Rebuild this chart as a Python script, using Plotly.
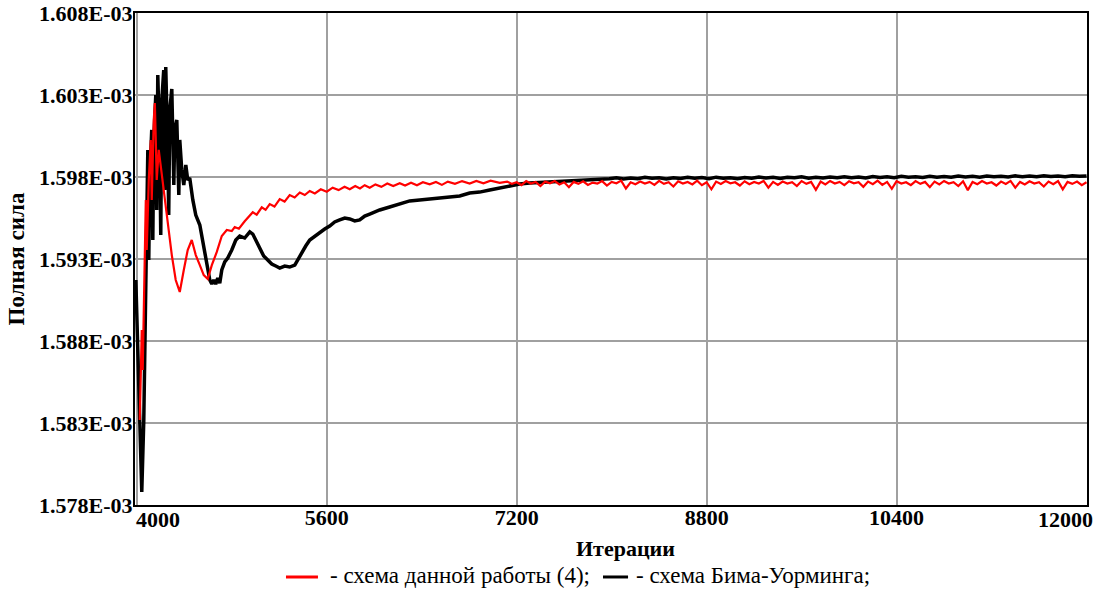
import plotly.graph_objects as go

# ---------------- data (values in units of 1E-03) ----------------
black_iter = [3992, 4008, 4025, 4042, 4059, 4076, 4084, 4093, 4101, 4109, 4126, 4135, 4143, 4160,
              4168, 4177, 4194, 4202, 4211, 4227, 4236, 4244, 4261, 4269, 4278, 4295, 4312, 4320,
              4337, 4354, 4362, 4379, 4396, 4413, 4429, 4446, 4472, 4497, 4531, 4564, 4589, 4615,
              4632, 4648, 4665, 4682, 4699, 4716, 4741, 4766, 4800, 4834, 4867, 4909, 4952, 4977,
              5002, 5036, 5069, 5103, 5137, 5171, 5204, 5246, 5288, 5331, 5356, 5389, 5423, 5457,
              5499, 5541, 5583, 5625, 5667, 5709, 5752, 5794, 5836, 5878, 5920, 5962, 6004, 6046,
              6130, 6215, 6299, 6383, 6467, 6552, 6636, 6720, 6804, 6888, 6973, 7057, 7141, 7225,
              7309, 7478, 7646, 7899]
black_val = [1.59172, 1.58745, 1.58196, 1.57879, 1.58318, 1.59050, 1.59660, 1.59965, 1.59294, 1.59782,
             1.60087, 1.59416, 1.60026, 1.60300, 1.59599, 1.60422, 1.59965, 1.59446, 1.60269, 1.60452,
             1.59721, 1.60471, 1.59965, 1.59568, 1.60209, 1.60337, 1.59751, 1.60087, 1.60148, 1.59690,
             1.60026, 1.59843, 1.59751, 1.59873, 1.59782, 1.59794, 1.59660, 1.59568, 1.59507, 1.59385,
             1.59282, 1.59172, 1.59147, 1.59172, 1.59147, 1.59184, 1.59153, 1.59233, 1.59282, 1.59306,
             1.59355, 1.59416, 1.59440, 1.59428, 1.59465, 1.59452, 1.59416, 1.59367, 1.59318, 1.59294,
             1.59269, 1.59257, 1.59245, 1.59257, 1.59251, 1.59263, 1.59294, 1.59343, 1.59379, 1.59416,
             1.59440, 1.59465, 1.59483, 1.59501, 1.59526, 1.59538, 1.59550, 1.59544, 1.59532, 1.59538,
             1.59562, 1.59574, 1.59587, 1.59599, 1.59617, 1.59635, 1.59654, 1.59660, 1.59666, 1.59672,
             1.59678, 1.59684, 1.59702, 1.59708, 1.59721, 1.59733, 1.59745, 1.59757, 1.59763, 1.59769,
             1.59776, 1.59786]
black_tail_iter = list(range(7980, 12001, 60))
black_tail_val = [1.59790, 1.59796, 1.59788, 1.59794, 1.59790, 1.59798, 1.59792, 1.59796, 1.59788, 1.59795,
                  1.59791, 1.59798, 1.59793, 1.59797, 1.59790, 1.59799, 1.59792, 1.59796, 1.59789, 1.59797,
                  1.59793, 1.59800, 1.59794, 1.59798, 1.59791, 1.59799, 1.59795, 1.59801, 1.59793, 1.59798,
                  1.59794, 1.59800, 1.59795, 1.59802, 1.59796, 1.59800, 1.59794, 1.59803, 1.59797, 1.59801,
                  1.59796, 1.59804, 1.59798, 1.59802, 1.59797, 1.59805, 1.59799, 1.59803, 1.59798, 1.59806,
                  1.59800, 1.59804, 1.59799, 1.59806, 1.59801, 1.59805, 1.59800, 1.59807, 1.59802, 1.59806,
                  1.59801, 1.59808, 1.59803, 1.59806, 1.59802, 1.59808, 1.59804, 1.59806]

red_iter = [4025, 4042, 4050, 4059, 4076, 4084, 4101, 4118, 4126, 4143, 4152, 4160, 4168, 4185,
            4211, 4236, 4261, 4295, 4328, 4362, 4396, 4429, 4463, 4497, 4531, 4564, 4598, 4632,
            4674, 4716, 4758, 4800, 4825, 4860, 4909, 4940, 4977, 5010, 5053, 5085, 5120, 5160,
            5204, 5245, 5288, 5330, 5373, 5415, 5457, 5500, 5550, 5600, 5650, 5700, 5750, 5794,
            5840, 5880, 5920, 5962, 6010, 6060, 6110, 6160, 6215, 6260, 6310, 6360, 6410, 6467,
            6520, 6570, 6620, 6680, 6740, 6804, 6860, 6920, 6980, 7057]
red_val = [1.58318, 1.58867, 1.58623, 1.59050, 1.59660, 1.59355, 1.59782, 1.60026, 1.59660, 1.60148,
           1.60251, 1.60026, 1.59782, 1.59965, 1.59812, 1.59660, 1.59507, 1.59324, 1.59172, 1.59099,
           1.59233, 1.59355, 1.59416, 1.59324, 1.59263, 1.59202, 1.59178, 1.59263, 1.59343, 1.59440,
           1.59477, 1.59470, 1.59495, 1.59485, 1.59530, 1.59555, 1.59585, 1.59570, 1.59615, 1.59600,
           1.59635, 1.59620, 1.59665, 1.59650, 1.59690, 1.59675, 1.59705, 1.59690, 1.59715, 1.59700,
           1.59725, 1.59710, 1.59735, 1.59720, 1.59740, 1.59725, 1.59745, 1.59730, 1.59750, 1.59735,
           1.59755, 1.59740, 1.59760, 1.59745, 1.59762, 1.59748, 1.59765, 1.59750, 1.59768, 1.59755,
           1.59770, 1.59752, 1.59772, 1.59758, 1.59775, 1.59760, 1.59776, 1.59762, 1.59778, 1.59764]
red_tail_iter = list(range(7120, 12001, 40))
red_tail_val = [1.59772, 1.59758, 1.59768, 1.59750, 1.59775, 1.59760, 1.59770, 1.59745, 1.59772, 1.59762,
                1.59776, 1.59755, 1.59768, 1.59738, 1.59770, 1.59758, 1.59774, 1.59752, 1.59766, 1.59760,
                1.59775, 1.59748, 1.59770, 1.59762, 1.59778, 1.59730, 1.59768, 1.59756, 1.59772, 1.59760,
                1.59770, 1.59752, 1.59776, 1.59758, 1.59768, 1.59742, 1.59774, 1.59760, 1.59770, 1.59755,
                1.59778, 1.59750, 1.59768, 1.59725, 1.59772, 1.59758, 1.59775, 1.59762, 1.59768, 1.59748,
                1.59774, 1.59756, 1.59770, 1.59760, 1.59776, 1.59735, 1.59770, 1.59752, 1.59772, 1.59760,
                1.59768, 1.59745, 1.59775, 1.59758, 1.59770, 1.59722, 1.59772, 1.59755, 1.59776, 1.59760,
                1.59770, 1.59750, 1.59774, 1.59762, 1.59768, 1.59740, 1.59772, 1.59756, 1.59778, 1.59752,
                1.59770, 1.59728, 1.59774, 1.59760, 1.59768, 1.59750, 1.59775, 1.59758, 1.59770, 1.59738,
                1.59772, 1.59755, 1.59776, 1.59760, 1.59768, 1.59745, 1.59774, 1.59720, 1.59770, 1.59756,
                1.59775, 1.59760, 1.59768, 1.59748, 1.59772, 1.59758, 1.59776, 1.59735, 1.59770, 1.59755,
                1.59774, 1.59760, 1.59768, 1.59742, 1.59772, 1.59756, 1.59775, 1.59725, 1.59770, 1.59758,
                1.59772, 1.59750, 1.59768]

x_ticks = [4000, 5600, 7200, 8800, 10400, 12000]
x_tick_labels = ["4000", "5600", "7200", "8800", "10400", "12000"]
y_ticks = [1.578, 1.583, 1.588, 1.593, 1.598, 1.603, 1.608]
y_tick_text = ["1.578E-03", "1.583E-03", "1.588E-03", "1.593E-03", "1.598E-03", "1.603E-03", "1.608E-03"]

x_title = "Итерации"
y_title = "Полная сила"
series_names = ["- схема данной работы (4);", "- схема Бима-Уорминга;"]
series_colors = ["#ff0000", "#000000"]
scale = 1e-3

# ---------------- figure ----------------
fig = go.Figure()
fig.add_trace(go.Scatter(
    x=black_iter + black_tail_iter,
    y=[v * scale for v in black_val + black_tail_val],
    mode="lines", line=dict(color=series_colors[1], width=3.5),
    name=series_names[1], showlegend=False))
fig.add_trace(go.Scatter(
    x=red_iter + red_tail_iter,
    y=[v * scale for v in red_val + red_tail_val],
    mode="lines", line=dict(color=series_colors[0], width=2.2),
    name=series_names[0], showlegend=False))

serif = "Liberation Serif, Times New Roman, serif"
tick_font = dict(family=serif, size=22, color="black", weight="bold")

# inner tick labels on the axis; the two end labels sit inset from the frame edges
x_tick_text = [""] + x_tick_labels[1:-1] + [""]
for val, lab, shift in [(x_ticks[0], x_tick_labels[0], 21), (x_ticks[-1], x_tick_labels[-1], -21)]:
    fig.add_annotation(x=val, xref="x", y=0, yref="paper", yanchor="top", xanchor="center",
                       xshift=shift, yshift=0, text=lab, showarrow=False, font=tick_font)

# x-axis title
fig.add_annotation(x=0.5, xref="paper", y=0, yref="paper", xanchor="center", yanchor="middle",
                   xshift=14, yshift=-43, text="<b>" + x_title + "</b>", showarrow=False,
                   font=dict(family=serif, size=22, color="black"))

# legend row below the title: line sample + caption for each series (paper coordinates)
legend_layout = [  # (line x0, line x1, text x)
    (0.1586, 0.1922, 0.2027),
    (0.4916, 0.5179, 0.5242),
]
legend_text_y = -0.1423
legend_line_y = -0.1463
for (lx0, lx1, tx), name, col in zip(legend_layout, series_names, series_colors):
    fig.add_shape(type="line", xref="paper", yref="paper", x0=lx0, x1=lx1,
                  y0=legend_line_y, y1=legend_line_y, line=dict(color=col, width=3))
    fig.add_annotation(x=tx, xref="paper", y=legend_text_y, yref="paper", xanchor="left",
                       yanchor="middle", text=name, showarrow=False,
                       font=dict(family=serif, size=23, color="black"))

fig.update_layout(
    width=1101, height=589,
    margin=dict(l=135, r=14, t=13, b=84),
    paper_bgcolor="white", plot_bgcolor="white",
    font=dict(family=serif, color="black"),
    showlegend=False,
    xaxis=dict(range=[3985, 12004], tickvals=x_ticks, ticktext=x_tick_text, automargin=False,
               ticklabelstandoff=-8,
               showgrid=True, gridcolor="#a0a0a0", gridwidth=2, zeroline=False,
               showline=True, linecolor="black", linewidth=2, mirror=True, ticks="",
               tickfont=tick_font),
    yaxis=dict(range=[1.578e-3, 1.608e-3], tickvals=[v * scale for v in y_ticks], ticktext=y_tick_text,
               automargin=False, ticklabelstandoff=-4,
               showgrid=True, gridcolor="#a0a0a0", gridwidth=2, zeroline=False,
               showline=True, linecolor="black", linewidth=2, mirror=True, ticks="",
               tickfont=tick_font,
               title=dict(text="<b>" + y_title + "</b>", font=dict(family=serif, size=23, color="black"),
                          standoff=8)),
)

fig.write_html("out.html")
